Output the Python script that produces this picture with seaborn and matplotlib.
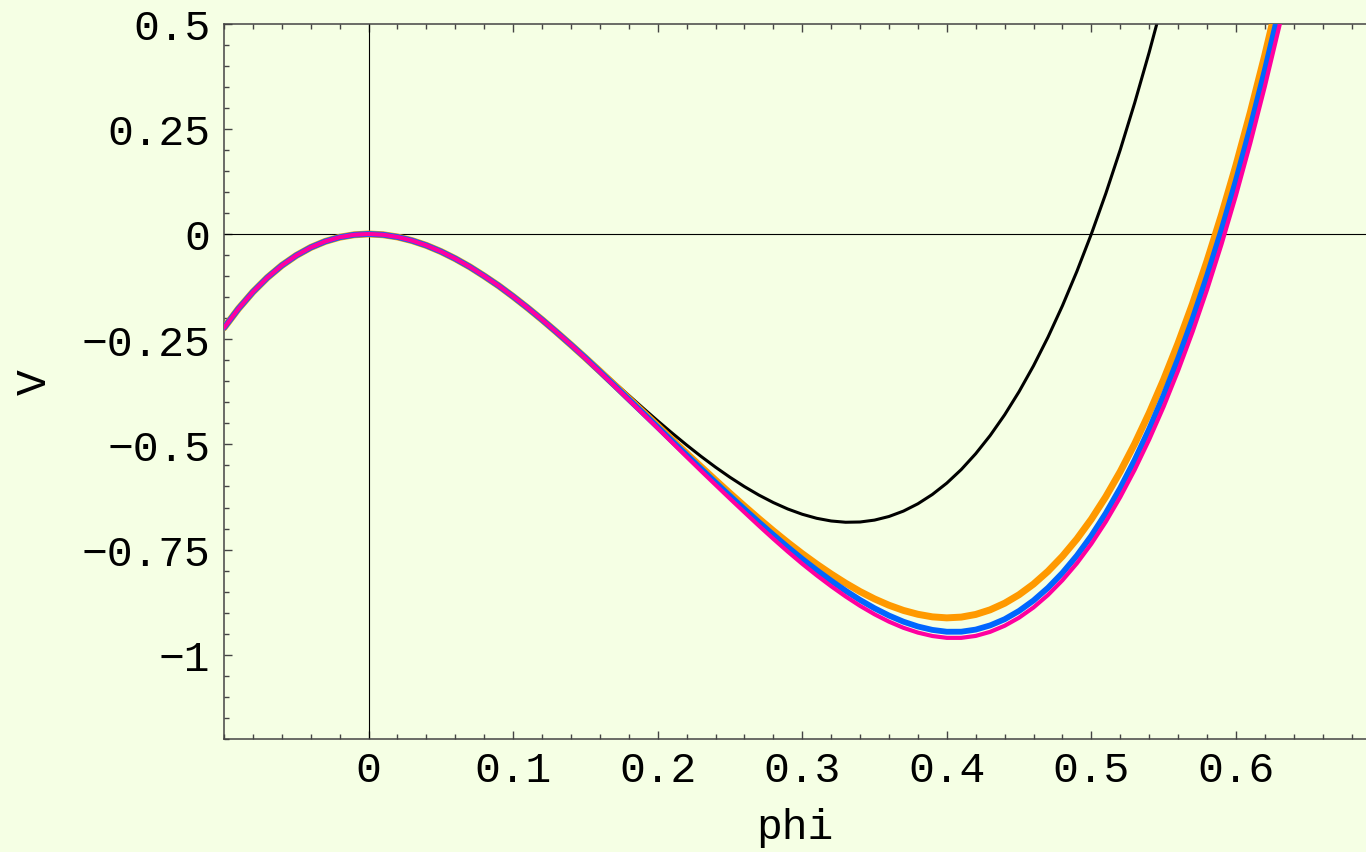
import matplotlib
matplotlib.use("Agg")
import matplotlib.pyplot as plt
import pandas as pd
import seaborn as sns
from matplotlib.ticker import FixedLocator, FixedFormatter, MultipleLocator

# valeurs (pas de 0.01)
phi = [-0.10, -0.09, -0.08, -0.07, -0.06, -0.05, -0.04, -0.03, -0.02, -0.01,
       0.00, 0.01, 0.02, 0.03, 0.04, 0.05, 0.06, 0.07, 0.08, 0.09,
       0.10, 0.11, 0.12, 0.13, 0.14, 0.15, 0.16, 0.17, 0.18, 0.19,
       0.20, 0.21, 0.22, 0.23, 0.24, 0.25, 0.26, 0.27, 0.28, 0.29,
       0.30, 0.31, 0.32, 0.33, 0.34, 0.35, 0.36, 0.37, 0.38, 0.39,
       0.40, 0.41, 0.42, 0.43, 0.44, 0.45, 0.46, 0.47, 0.48, 0.49,
       0.50, 0.51, 0.52, 0.53, 0.54, 0.55, 0.56, 0.57, 0.58, 0.59,
       0.60, 0.61, 0.62, 0.63, 0.64]

v_black = [-0.2220, -0.1768, -0.1373, -0.1033, -0.0746, -0.0509, -0.0320, -0.0176, -0.0077, -0.0019,
           0.0, -0.0018, -0.0071, -0.0157, -0.0272, -0.0416, -0.0586, -0.0780, -0.0995, -0.1229,
           -0.1480, -0.1746, -0.2025, -0.2314, -0.2611, -0.2914, -0.3220, -0.3529, -0.3836, -0.4141,
           -0.4440, -0.4732, -0.5014, -0.5285, -0.5541, -0.5781, -0.6003, -0.6204, -0.6382, -0.6535,
           -0.6660, -0.6756, -0.6820, -0.6850, -0.6844, -0.6799, -0.6713, -0.6585, -0.6411, -0.6190,
           -0.5920, -0.5598, -0.5221, -0.4789, -0.4298, -0.3746, -0.3132, -0.2452, -0.1705, -0.0888,
           0.0, 0.0962, 0.2001, 0.3118, 0.4316, 0.5596, 0.6962, 0.8415, 0.9957, 1.1592,
           1.3320, 1.5144, 1.7067, 1.9091, 2.1217]

v_orange = [-0.2230, -0.1775, -0.1377, -0.1035, -0.0747, -0.0510, -0.0320, -0.0176, -0.0077, -0.0019,
            0.0, -0.0018, -0.0071, -0.0157, -0.0272, -0.0416, -0.0587, -0.0781, -0.0999, -0.1231,
            -0.1486, -0.1755, -0.2037, -0.2331, -0.2634, -0.2943, -0.3259, -0.3582, -0.3909, -0.4234,
            -0.4560, -0.4888, -0.5213, -0.5534, -0.5850, -0.6162, -0.6467, -0.6765, -0.7054, -0.7332,
            -0.7597, -0.7846, -0.8080, -0.8298, -0.8497, -0.8672, -0.8822, -0.8945, -0.9037, -0.9098,
            -0.9122, -0.9104, -0.9041, -0.8931, -0.8775, -0.8572, -0.8319, -0.8015, -0.7658, -0.7247,
            -0.6777, -0.6243, -0.5646, -0.4984, -0.4255, -0.3460, -0.2594, -0.1657, -0.0643, 0.0451,
            0.1628, 0.2894, 0.4249, 0.5694, 0.7230]

v_blue = [-0.2230, -0.1775, -0.1377, -0.1035, -0.0747, -0.0510, -0.0320, -0.0176, -0.0077, -0.0019,
          0.0, -0.0018, -0.0071, -0.0157, -0.0272, -0.0416, -0.0587, -0.0781, -0.0999, -0.1231,
          -0.1486, -0.1755, -0.2037, -0.2331, -0.2634, -0.2943, -0.3269, -0.3597, -0.3929, -0.4259,
          -0.4590, -0.4923, -0.5253, -0.5581, -0.5905, -0.6225, -0.6539, -0.6848, -0.7149, -0.7442,
          -0.7722, -0.7988, -0.8240, -0.8478, -0.8697, -0.8894, -0.9067, -0.9213, -0.9327, -0.9408,
          -0.9452, -0.9451, -0.9401, -0.9301, -0.9155, -0.8957, -0.8709, -0.8408, -0.8053, -0.7642,
          -0.7172, -0.6636, -0.6036, -0.5369, -0.4635, -0.3835, -0.2964, -0.2022, -0.1003, 0.0091,
          0.1268, 0.2534, 0.3889, 0.5334, 0.6870]

v_magenta = [-0.2230, -0.1775, -0.1377, -0.1035, -0.0747, -0.0510, -0.0320, -0.0176, -0.0077, -0.0019,
             0.0, -0.0018, -0.0071, -0.0157, -0.0272, -0.0416, -0.0587, -0.0781, -0.0999, -0.1231,
             -0.1486, -0.1755, -0.2037, -0.2331, -0.2634, -0.2953, -0.3279, -0.3609, -0.3944, -0.4279,
             -0.4615, -0.4955, -0.5293, -0.5629, -0.5960, -0.6289, -0.6612, -0.6932, -0.7244, -0.7547,
             -0.7837, -0.8111, -0.8370, -0.8613, -0.8837, -0.9037, -0.9212, -0.9358, -0.9472, -0.9553,
             -0.9597, -0.9597, -0.9551, -0.9454, -0.9310, -0.9117, -0.8874, -0.8578, -0.8228, -0.7825,
             -0.7362, -0.6838, -0.6251, -0.5601, -0.4885, -0.4103, -0.3249, -0.2327, -0.1328, -0.0249,
             0.0913, 0.2164, 0.3504, 0.4934, 0.6455]

xticks = [0.0, 0.1, 0.2, 0.3, 0.4, 0.5, 0.6]
xticklabels = ["0", "0.1", "0.2", "0.3", "0.4", "0.5", "0.6"]
yticks = [0.5, 0.25, 0.0, -0.25, -0.5, -0.75, -1.0]
yticklabels = ["0.5", "0.25", "0", "\u22120.25", "\u22120.5", "\u22120.75", "\u22121"]

fond = "#F5FFE4"

sns.set_theme(style="ticks")
plt.rcParams["font.family"] = ["Liberation Mono", "DejaVu Sans Mono"]

fig = plt.figure(figsize=(13.66, 8.53), dpi=100, facecolor=fond)
ax = fig.add_axes([0.164, 0.1325, 0.836, 0.8387])
ax.set_facecolor(fond)

ax.axhline(0, color="black", lw=0.8, zorder=1)
ax.axvline(0, color="black", lw=0.8, zorder=1)

courbes = [
    (v_black, "black", 2.2),
    (v_orange, "#FF9900", 5.0),
    (v_blue, "#0066FF", 4.2),
    (v_magenta, "#FF00A0", 3.0),
]
for i, (vals, couleur, lw) in enumerate(courbes):
    df = pd.DataFrame({"phi": phi, "V": vals})
    sns.lineplot(data=df, x="phi", y="V", color=couleur, lw=lw, ax=ax,
                 zorder=2 + i, solid_joinstyle="round", solid_capstyle="round")

ax.set_xlim(-0.1, 0.69)
ax.set_ylim(-1.2, 0.5)

ax.xaxis.set_major_locator(FixedLocator(xticks))
ax.xaxis.set_major_formatter(FixedFormatter(xticklabels))
ax.xaxis.set_minor_locator(MultipleLocator(0.02))
ax.yaxis.set_major_locator(FixedLocator(yticks))
ax.yaxis.set_major_formatter(FixedFormatter(yticklabels))
ax.yaxis.set_minor_locator(MultipleLocator(0.05))

ax.tick_params(which="both", direction="in", color="#444444", width=1.0,
               top=True, bottom=True, left=True, right=False,
               labelsize=31, labelcolor="black")
ax.tick_params(which="major", length=6)
ax.tick_params(which="minor", length=3.5)
ax.tick_params(axis="x", pad=8)
ax.tick_params(axis="y", pad=10)

for s in ["left", "bottom", "top"]:
    ax.spines[s].set_color("#444444")
    ax.spines[s].set_linewidth(1.1)
ax.spines["right"].set_visible(False)

ax.set_xlabel("phi", fontsize=31, color="black")
ax.set_ylabel("V", fontsize=31, color="black")
ax.xaxis.set_label_coords(0.5, -0.095)
ax.yaxis.set_label_coords(-0.148, 0.5)

fig.savefig("out.png", dpi=100, facecolor=fond)
